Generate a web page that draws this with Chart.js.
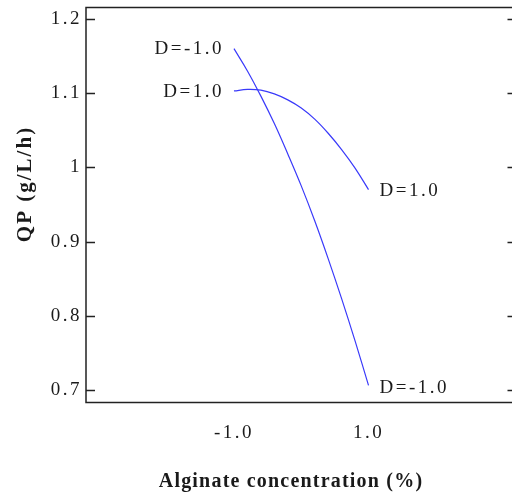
<!DOCTYPE html>
<html>
<head>
<meta charset="utf-8">
<script src="https://cdn.jsdelivr.net/npm/chart.js@4/dist/chart.umd.min.js"></script>
<style>
  html, body { margin: 0; padding: 0; overflow: hidden; background: #fff; }
  #wrap { position: relative; width: 517px; height: 492px; }
</style>
</head>
<body>
<div id="wrap"><canvas id="c"></canvas></div>
<script>
// ---- data ----
const alginate = [-1, -0.8, -0.6, -0.4, -0.2, 0, 0.2, 0.4, 0.6, 0.8, 1];
const qpDPlus  = [1.103, 1.105, 1.104, 1.099, 1.091, 1.080, 1.065, 1.046, 1.024, 0.999, 0.970];
const qpDMinus = [1.160, 1.130, 1.096, 1.059, 1.018, 0.975, 0.928, 0.877, 0.823, 0.766, 0.706];
const seriesLabels = ['D=1.0', 'D=-1.0'];
const yTicks = [0.7, 0.8, 0.9, 1.0, 1.1, 1.2];
const yTickLabels = ['0.7', '0.8', '0.9', '1', '1.1', '1.2'];
const xTicks = [-1, 1];
const xTickLabels = ['-1.0', '1.0'];
const xTitle = 'Alginate concentration (%)';
const yTitle = 'QP (g/L/h)';

const SERIF = '"Liberation Serif", "Times New Roman", serif';
const INK = '#1a1a1a';
const BLUE = 'rgb(58,58,250)';

const toPts = (xs, ys) => xs.map((x, i) => ({ x, y: ys[i] }));

const spacingPlugin = {
  id: 'spacing',
  beforeLayout(chart) { chart.ctx.letterSpacing = '2.5px'; },
  beforeDraw(chart) { chart.ctx.letterSpacing = '2.5px'; }
};

const decorPlugin = {
  id: 'decor',
  afterDraw(chart) {
    const { ctx, chartArea: a, scales: { x, y } } = chart;
    ctx.save();
    // frame
    ctx.strokeStyle = '#222';
    ctx.lineWidth = 1.5;
    ctx.strokeRect(a.left, a.top, a.right - a.left, a.bottom - a.top);
    // inward y ticks on both sides
    ctx.beginPath();
    yTicks.forEach(v => {
      const py = Math.round(y.getPixelForValue(v)) + 0.5;
      ctx.moveTo(a.left, py); ctx.lineTo(a.left + 9, py);
      ctx.moveTo(a.right - 9, py); ctx.lineTo(a.right, py);
    });
    ctx.stroke();

    // curve end labels
    ctx.fillStyle = INK;
    ctx.font = '19px ' + SERIF;
    ctx.letterSpacing = '2.5px';
    ctx.textBaseline = 'middle';
    const last = alginate.length - 1;
    const x0 = x.getPixelForValue(alginate[0]);
    const x1 = x.getPixelForValue(alginate[last]);
    ctx.textAlign = 'right';
    ctx.fillText(seriesLabels[1], x0 - 10, y.getPixelForValue(qpDMinus[0]));
    ctx.fillText(seriesLabels[0], x0 - 10, y.getPixelForValue(qpDPlus[0]) + 1);
    ctx.textAlign = 'left';
    ctx.fillText(seriesLabels[0], x1 + 11, y.getPixelForValue(qpDPlus[last]) + 1);
    ctx.fillText(seriesLabels[1], x1 + 11, y.getPixelForValue(qpDMinus[last]) + 3);

    // axis titles
    ctx.font = 'bold 20px ' + SERIF;
    ctx.letterSpacing = '1.2px';
    ctx.textAlign = 'center';
    ctx.textBaseline = 'alphabetic';
    ctx.fillText(xTitle, 291, 487);

    ctx.translate(31, 184);
    ctx.rotate(-Math.PI / 2);
    ctx.font = 'bold 21px ' + SERIF;
    ctx.letterSpacing = '2px';
    ctx.fillText(yTitle, 0, 0);
    ctx.restore();
  }
};

new Chart(document.getElementById('c'), {
  type: 'line',
  data: {
    datasets: [
      { label: seriesLabels[0], data: toPts(alginate, qpDPlus), borderColor: BLUE, borderWidth: 1.2, pointRadius: 0, tension: 0.4, fill: false },
      { label: seriesLabels[1], data: toPts(alginate, qpDMinus), borderColor: BLUE, borderWidth: 1.2, pointRadius: 0, tension: 0.4, fill: false }
    ]
  },
  options: {
    responsive: true,
    maintainAspectRatio: false,
    animation: false,
    layout: { padding: { top: 7.5, left: 0, right: 0.5, bottom: 0 } },
    plugins: { legend: { display: false }, tooltip: { enabled: false } },
    scales: {
      x: {
        type: 'linear',
        min: -3.2, max: 3.2,
        grid: { display: false, drawTicks: false, tickLength: 0 },
        border: { display: false },
        afterBuildTicks(s) { s.ticks = xTicks.map(v => ({ value: v })); },
        afterFit(s) { s.height = 89.5; s.paddingLeft = 0; s.paddingRight = 0; },
        ticks: {
          padding: 19,
          color: INK,
          font: { family: SERIF, size: 19 },
          maxRotation: 0,
          autoSkip: false,
          callback: (v) => xTickLabels[xTicks.indexOf(v)]
        }
      },
      y: {
        min: 0.683, max: 1.2155,
        grid: { display: false, drawTicks: false, tickLength: 0 },
        border: { display: false },
        afterBuildTicks(s) { s.ticks = yTicks.map(v => ({ value: v })); },
        afterFit(s) { s.width = 86; s.paddingTop = 0; s.paddingBottom = 0; },
        ticks: {
          padding: 4,
          color: INK,
          font: { family: SERIF, size: 19 },
          autoSkip: false,
          callback: (v) => yTickLabels[yTicks.findIndex(t => Math.abs(t - v) < 1e-9)]
        }
      }
    }
  },
  plugins: [spacingPlugin, decorPlugin]
});
</script>
</body>
</html>
